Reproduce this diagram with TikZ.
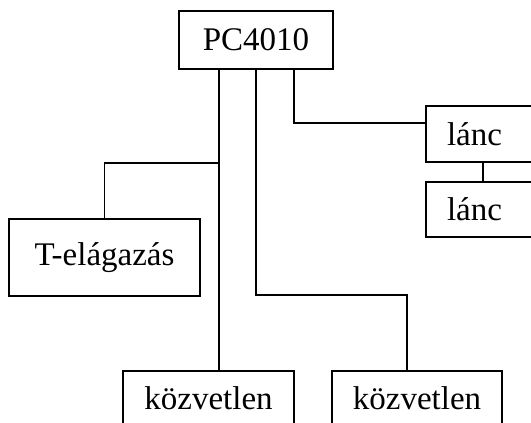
\documentclass[tikz,border=0pt]{standalone}
\usepackage{fontspec}
\setmainfont{Liberation Serif}
\begin{document}
\begin{tikzpicture}[x=1pt,y=-1pt,
  box/.style={draw=black, line width=1.7pt, rectangle, inner sep=0pt,
    font=\fontsize{33}{38}\selectfont},
  conn/.style={draw=black, line width=1.7pt}]
\useasboundingbox (0,0) rectangle (531,423);
\clip (0,0) rectangle (531,423);
\node[box, minimum width=154pt, minimum height=58pt] (pc) at (256,40) {PC4010};
\node[box, minimum height=56pt, text width=72pt, inner xsep=21pt, align=left] (l1) at (483,134) {lánc};
\node[box, minimum height=55pt, text width=72pt, inner xsep=21pt, align=left] (l2) at (483,209.5) {lánc};
\node[box, minimum width=191pt, minimum height=77pt] (tel) at (104.5,257.5) {T-elágazás};
\node[box, minimum width=171pt, minimum height=54pt] (k1) at (208.5,398) {közvetlen};
\node[box, minimum width=170pt, minimum height=54pt] (k2) at (417,398) {közvetlen};
\coordinate (tj) at (219,163);
\draw[conn] (pc.south -| tj) -- (k1.north -| tj);
\draw[conn] (tel.north) |- (tj);
\draw[conn] (pc.south) -- (256,295) -| (k2.north -| 407,0);
\draw[conn] (pc.south -| 294,0) |- ([yshift=11pt]l1.west);
\draw[conn] (l1.south) -- (l2.north);
\end{tikzpicture}
\end{document}
